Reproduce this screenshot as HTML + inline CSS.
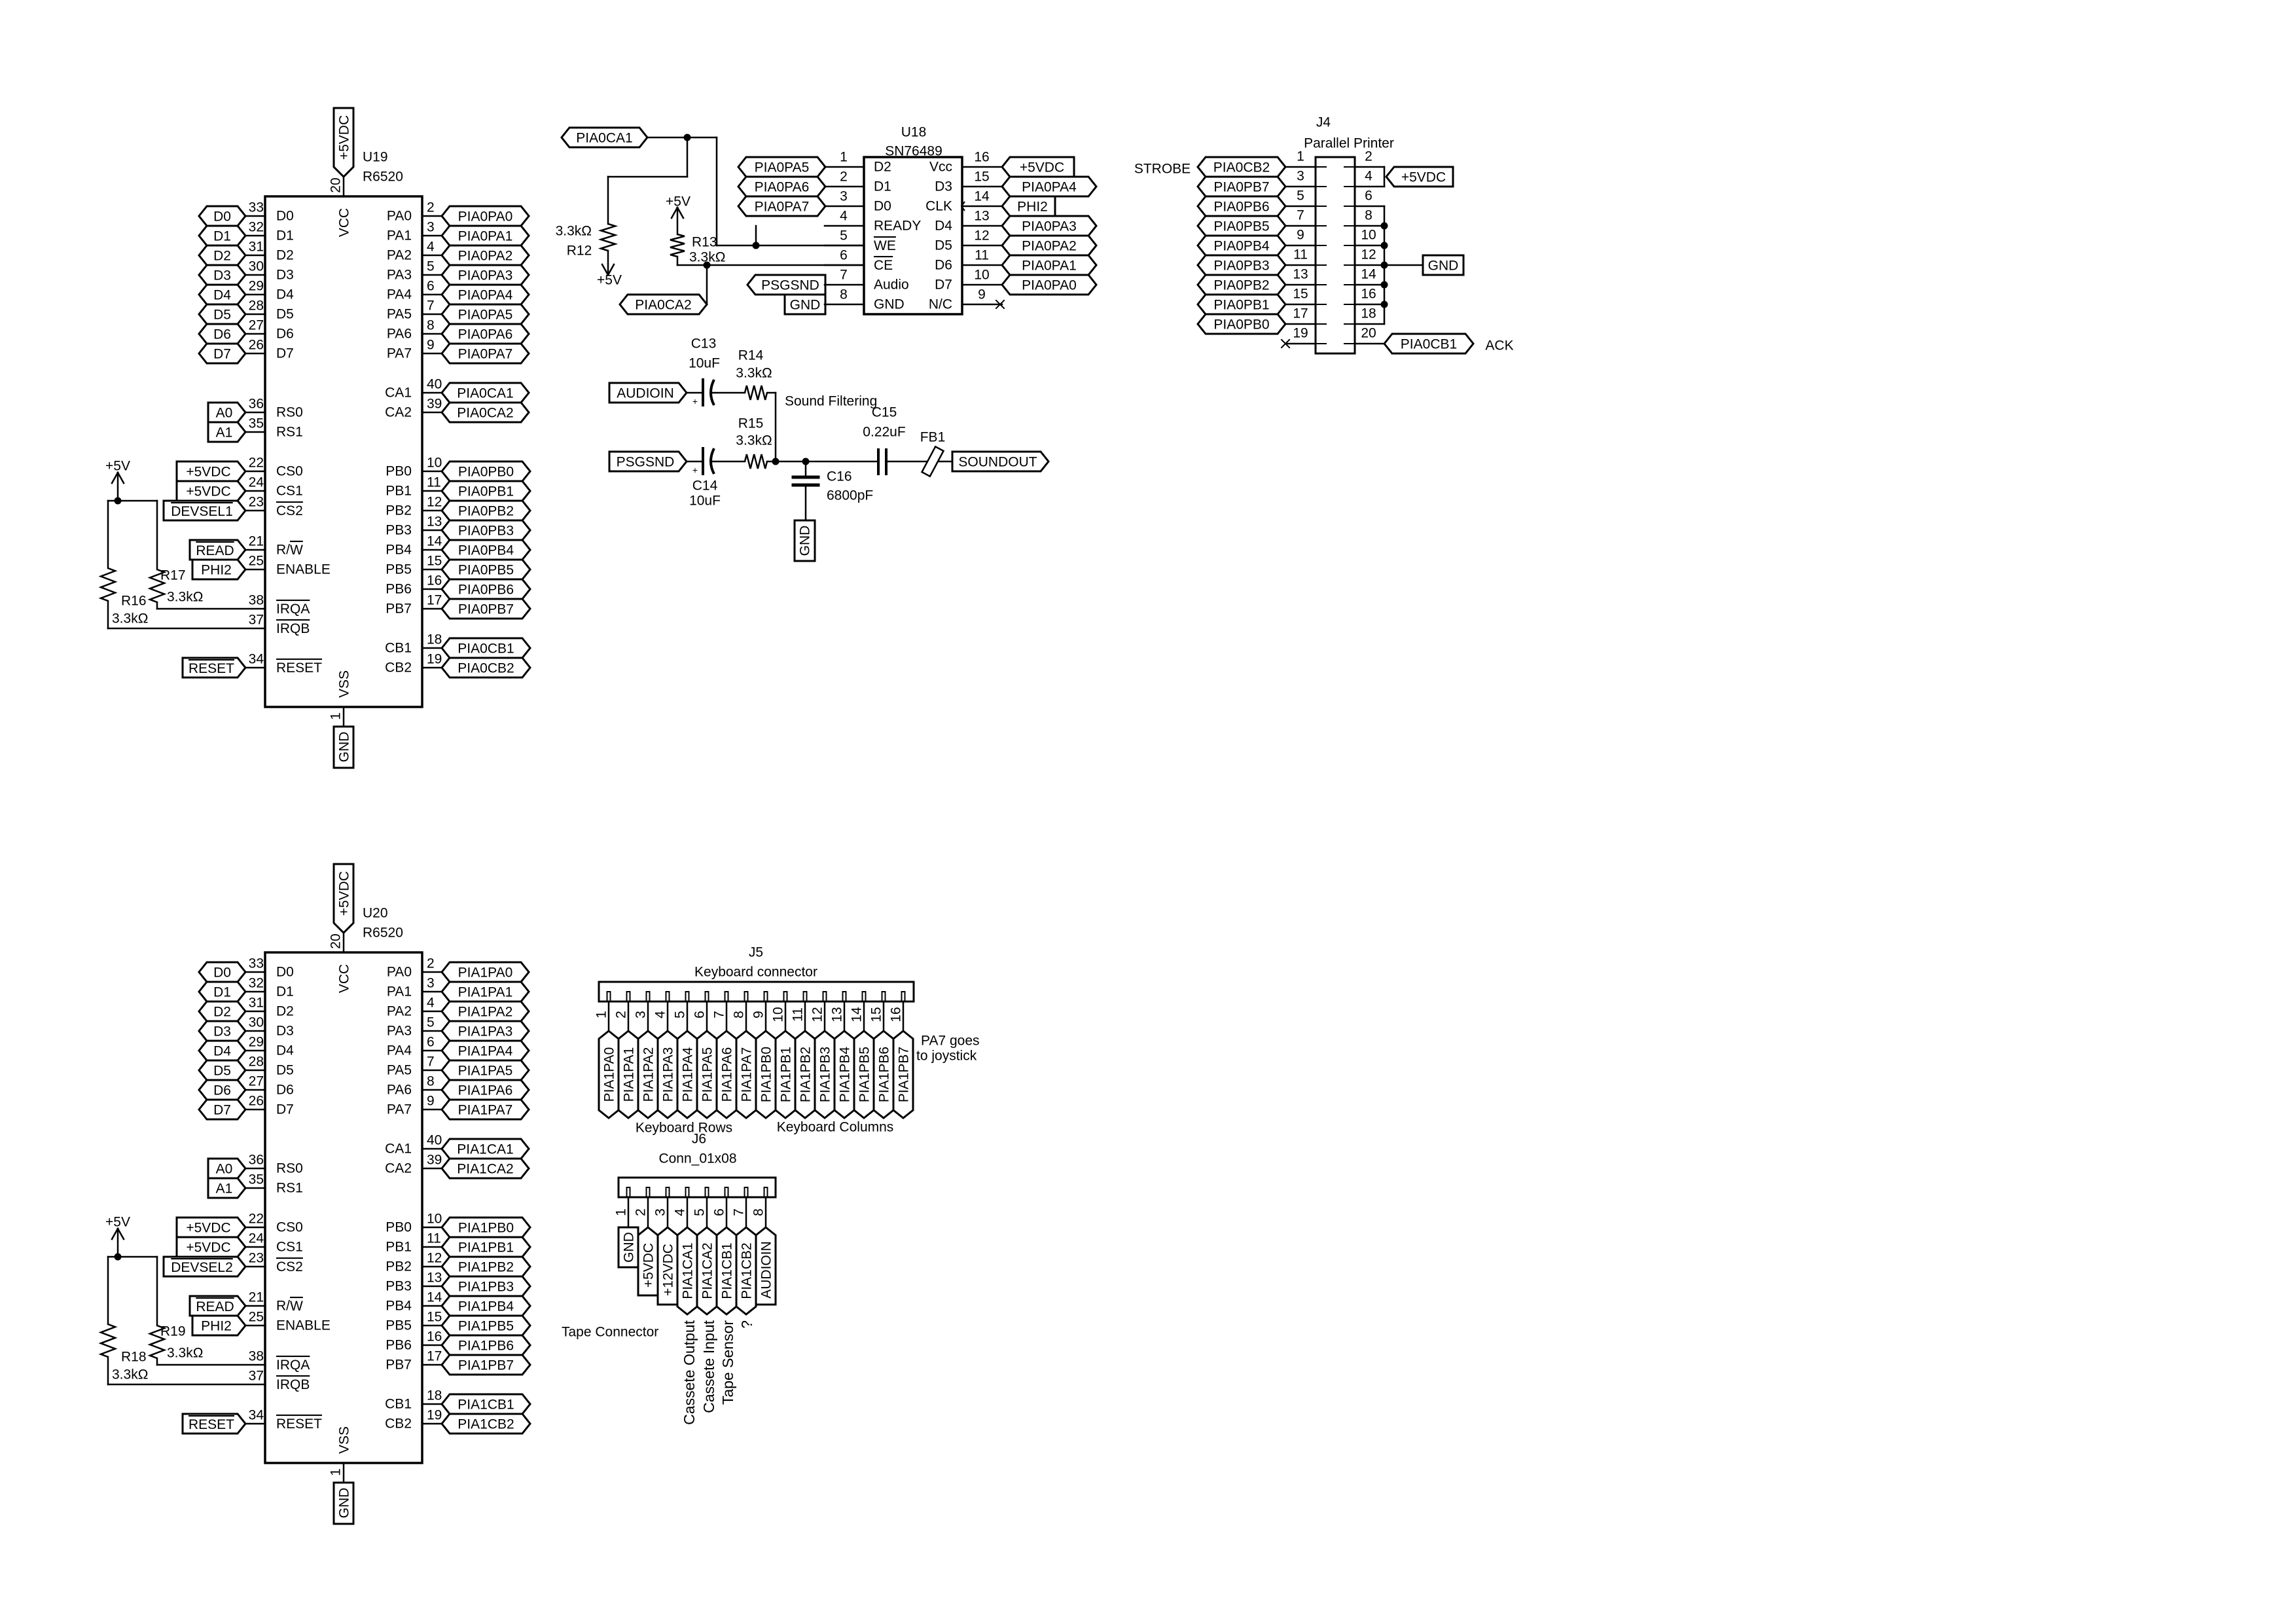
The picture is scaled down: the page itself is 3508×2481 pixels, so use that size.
<!DOCTYPE html>
<html><head><meta charset="utf-8">
<style>
html,body{margin:0;padding:0;background:#fff;}
svg{display:block;}
text{font-family:"Liberation Sans",sans-serif;dominant-baseline:central;fill:#000;}
</style></head>
<body>
<svg id="s" width="3508" height="2481" viewBox="0 0 3508 2481" xmlns="http://www.w3.org/2000/svg"></svg>
<script>
let o='';
const W=2.5;
function L(a,b,c,d,w){o+=`<line x1="${a}" y1="${b}" x2="${c}" y2="${d}" stroke="#000" stroke-width="${w||W}" stroke-linecap="square"/>`}
function P(pts,w){o+=`<polyline points="${pts}" fill="none" stroke="#000" stroke-width="${w||W}"/>`}
function G(pts,w){o+=`<polygon points="${pts}" fill="none" stroke="#000" stroke-width="${w||3}"/>`}
function R(x,y,w,h,sw){o+=`<rect x="${x}" y="${y}" width="${w}" height="${h}" fill="none" stroke="#000" stroke-width="${sw||3}"/>`}
function T(x,y,s,a,r,fs){a=a||'start';fs=fs||21;o+=`<text x="${x}" y="${y}" text-anchor="${a}" font-size="${fs}"${r?` transform="rotate(${r} ${x} ${y})"`:''}>${s}</text>`}
function D(x,y){o+=`<circle cx="${x}" cy="${y}" r="5.5" fill="#000"/>`}
function ov(s){return `<tspan text-decoration="overline">${s}</tspan>`}
const h=15,d=12;
function hl(x1,x2,y,s,t){
  let cx;
  if(t=='h'){G(`${x1},${y} ${x1+d},${y-h} ${x2-d},${y-h} ${x2},${y} ${x2-d},${y+h} ${x1+d},${y+h}`);cx=(x1+x2)/2;}
  else if(t=='r'){G(`${x1},${y-h} ${x2-d},${y-h} ${x2},${y} ${x2-d},${y+h} ${x1},${y+h}`);cx=(x1+x2-d)/2+2;}
  else if(t=='l'){G(`${x1},${y} ${x1+d},${y-h} ${x2},${y-h} ${x2},${y+h} ${x1+d},${y+h}`);cx=(x1+d+x2)/2;}
  else {G(`${x1},${y-h} ${x2},${y-h} ${x2},${y+h} ${x1},${y+h}`);cx=(x1+x2)/2;}
  T(cx,y+1,s,'middle');
}
function vl(x,y1,y2,s,t){
  let cy;
  if(t=='h'){G(`${x},${y1} ${x+h},${y1+d} ${x+h},${y2-d} ${x},${y2} ${x-h},${y2-d} ${x-h},${y1+d}`);cy=(y1+y2)/2;}
  else if(t=='t'){G(`${x},${y1} ${x+h},${y1+d} ${x+h},${y2} ${x-h},${y2} ${x-h},${y1+d}`);cy=(y1+d+y2)/2;}
  else {G(`${x-h},${y1} ${x+h},${y1} ${x+h},${y2} ${x-h},${y2}`);cy=(y1+y2)/2;}
  T(x+1,cy,s,'middle',-90);
}
function zv(x,y1,y2){let p=[x+','+y1];const n=6;for(let i=0;i<n;i++){p.push((x+(i%2?-11:11))+','+(y1+(i+0.5)*(y2-y1)/n));}p.push(x+','+y2);P(p.join(' '));}
function zh(x1,x2,y){let p=[x1+','+y];const n=6;for(let i=0;i<n;i++){p.push((x1+(i+0.5)*(x2-x1)/n)+','+(y+(i%2?11:-11)));}p.push(x2+','+y);P(p.join(' '));}
function up(x,y){L(x-9,y+16,x,y);L(x,y,x+9,y+16);}
function dn(x,y){L(x-9,y-16,x,y);L(x,y,x+9,y-16);}

function pia(oy,p,dev,U,Ra,Rb){
  R(405,300+oy,240,780,3.5);
  G(`510,${165+oy} 540,${165+oy} 540,${255+oy} 525,${270+oy} 510,${255+oy}`);
  T(526,210+oy,'+5VDC','middle',-90);
  L(525,270+oy,525,300+oy);
  T(513,283+oy,'20','middle',-90);
  T(554,240+oy,U);T(554,270+oy,'R6520');
  T(526,340+oy,'VCC','middle',-90);
  T(526,1045+oy,'VSS','middle',-90);
  L(525,1080+oy,525,1110+oy);
  R(510,1110+oy,30,63);T(526,1141+oy,'GND','middle',-90);
  T(513,1094+oy,'1','middle',-90);
  const dn_=[33,32,31,30,29,28,27,26];
  for(let i=0;i<8;i++){
    const y=330+30*i+oy;
    L(375,y,405,y);hl(304,375,y,'D'+i,'h');T(403,y-13,dn_[i],'end');T(422,y,'D'+i);
    L(645,y,675,y);hl(675,808,y,p+'PA'+i,'h');T(652,y-13,i+2);T(629,y,'PA'+i,'end');
  }
  // CA
  [[600,'CA1',40],[630,'CA2',39]].forEach(a=>{const y=a[0]+oy;L(645,y,675,y);hl(675,808,y,p+a[1],'h');T(652,y-13,a[2]);T(629,y,a[1],'end');});
  // PB
  for(let i=0;i<8;i++){const y=720+30*i+oy;L(645,y,675,y);hl(675,810,y,p+'PB'+i,'h');T(652,y-13,10+i);T(629,y,'PB'+i,'end');}
  [[990,'CB1',18],[1020,'CB2',19]].forEach(a=>{const y=a[0]+oy;L(645,y,675,y);hl(675,810,y,p+a[1],'h');T(652,y-13,a[2]);T(629,y,a[1],'end');});
  // left inputs
  const li=[[630,'A0',36,'RS0',318],[660,'A1',35,'RS1',318],[720,'+5VDC',22,'CS0',270],[750,'+5VDC',24,'CS1',270],[780,ov(dev),23,ov('CS2'),250],[840,ov('READ'),21,'R/'+ov('W'),290],[870,'PHI2',25,'ENABLE',294],[1020,ov('RESET'),34,ov('RESET'),279]];
  li.forEach(a=>{const y=a[0]+oy;L(375,y,405,y);hl(a[4],375,y,a[1],'r');T(403,y-13,a[2],'end');T(422,y,a[3]);});
  // IRQ
  T(403,930+oy-13,38,'end');T(422,930+oy,ov('IRQA'));
  T(403,960+oy-13,37,'end');T(422,960+oy,ov('IRQB'));
  // resistor network
  T(180,712+oy,'+5V','middle');
  up(180,722+oy);L(180,722+oy,180,765+oy);D(180,765+oy);
  L(165,765+oy,240,765+oy);
  L(165,765+oy,165,868+oy);zv(165,868+oy,918+oy);L(165,918+oy,165,960+oy);L(165,960+oy,405,960+oy);
  L(240,765+oy,240,870+oy);zv(240,870+oy,920+oy);L(240,920+oy,240,930+oy);L(240,930+oy,405,930+oy);
  T(245,879+oy,Rb);T(255,912+oy,'3.3kΩ');
  T(185,918+oy,Ra);T(171,945+oy,'3.3kΩ');
}
pia(0,'PIA0','DEVSEL1','U19','R16','R17');
pia(1155,'PIA1','DEVSEL2','U20','R18','R19');

// U18
R(1320,240,150,240,3.5);
T(1396,202,'U18','middle');T(1396,231,'SN76489','middle');
const ln=['D2','D1','D0','READY',ov('WE'),ov('CE'),'Audio','GND'];
const rn=['Vcc','D3','CLK','D4','D5','D6','D7','N/C'];
const rnum=[16,15,14,13,12,11,10,9];
for(let i=0;i<8;i++){const y=255+30*i;
  L(1260,y,1320,y);T(1289,y-15,i+1,'middle');T(1335,y,ln[i]);
  L(1470,y,1531,y);T(1500,y-15,rnum[i],'middle');T(1455,y,rn[i],'end');}
P('1474,308 1469,315 1474,322',2);
hl(1128,1261,255,'PIA0PA5','h');hl(1128,1261,285,'PIA0PA6','h');hl(1128,1261,315,'PIA0PA7','h');
hl(1142,1261,435,'PSGSND','l');hl(1199,1261,465,'GND','b');
hl(1531,1641,255,'+5VDC','l');hl(1531,1675,285,'PIA0PA4','h');hl(1531,1612,315,'PHI2','l');
hl(1531,1675,345,'PIA0PA3','h');hl(1531,1675,375,'PIA0PA2','h');hl(1531,1675,405,'PIA0PA1','h');hl(1531,1675,435,'PIA0PA0','h');
L(1522,459,1534,471,2);L(1522,471,1534,459,2);
// CA1/CA2 net
hl(858,989,210,'PIA0CA1','h');
L(989,210,1095,210);D(1050,210);
L(1050,210,1050,270);L(1050,270,929,270);L(929,270,929,342);zv(929,342,383);L(929,383,929,420);dn(929,420);
T(931,428,'+5V','middle');T(904,353,'3.3kΩ','end');T(885,383,'R12','middle');
L(1095,210,1095,375);L(1095,375,1320,375);D(1155,375);L(1155,345,1155,375);
T(1036,308,'+5V','middle');up(1035,317);L(1035,317,1035,358);zv(1035,358,392);L(1035,392,1035,405);L(1035,405,1320,405);
D(1080,405);L(1080,405,1080,465);hl(947,1080,465,'PIA0CA2','h');
T(1057,370,'R13');T(1053,393,'3.3kΩ');

// Filter
hl(931,1049,600,'AUDIOIN','r');hl(931,1049,705,'PSGSND','r');
function pcap(y){L(1049,y,1074,y);L(1074,y-20,1074,y+19,4);o+=`<path d="M1091,${y-20} Q1081,${y} 1091,${y+19}" fill="none" stroke="#000" stroke-width="4"/>`;L(1087,y,1138,y);T(1062,y+13,'+','middle',0,14);}
pcap(600);pcap(705);
zh(1138,1172,600);L(1172,600,1185,600);L(1185,600,1185,705);
zh(1138,1172,705);L(1172,705,1342,705);
D(1185,705);D(1231,705);
L(1342,687,1342,724,4);L(1354,687,1354,724,4);L(1354,705,1416,705);
o+=`<rect x="1418" y="683" width="14" height="44" fill="none" stroke="#000" stroke-width="2.5" transform="rotate(28 1425 705)"/>`;
L(1434,705,1455,705);hl(1455,1602,705,'SOUNDOUT','r');
L(1231,705,1231,729);L(1212,729,1250,729,5);L(1212,741,1250,741,5);L(1231,741,1231,795);
R(1214,795,31,62);T(1230,826,'GND','middle',-90);
T(1075,525,'C13','middle');T(1076,555,'10uF','middle');T(1147,543,'R14','middle');T(1152,570,'3.3kΩ','middle');
T(1199,613,'Sound Filtering');T(1351,630,'C15','middle');T(1351,660,'0.22uF','middle');T(1425,668,'FB1','middle');
T(1147,647,'R15','middle');T(1152,673,'3.3kΩ','middle');T(1077,742,'C14','middle');T(1077,765,'10uF','middle');
T(1263,728,'C16');T(1263,757,'6800pF');

// J4
R(2010,240,60,300,3);
T(2022,187,'J4','middle');T(2061,219,'Parallel Printer','middle');
T(1776,258,'STROBE','middle');T(2291,528,'ACK','middle');
const j4l=['PIA0CB2','PIA0PB7','PIA0PB6','PIA0PB5','PIA0PB4','PIA0PB3','PIA0PB2','PIA0PB1','PIA0PB0'];
for(let i=0;i<10;i++){const y=255+30*i;
  L(1964,y,2010,y);L(2010,y,2026,y,2);L(2054,y,2070,y,2);L(2070,y,2115,y);
  T(1987,y-16,2*i+1,'middle');T(2091,y-16,2*i+2,'middle');
  if(i<9)hl(1830,1964,y,j4l[i],'h');}
L(1958,519,1970,531,2);L(1958,531,1970,519,2);
L(2115,255,2115,285);hl(2118,2220,270,'+5VDC','l');
L(2115,315,2115,495);[345,375,405,435,465].forEach(y=>D(2115,y));
L(2115,405,2174,405);hl(2174,2236,405,'GND','b');
hl(2115,2251,525,'PIA0CB1','h');

// J5
R(915,1500,481,30,3);
T(1155,1455,'J5','middle');T(1155,1485,'Keyboard connector','middle');
for(let i=0;i<16;i++){const x=930+30*i;
  L(x,1530,x,1575);o+=`<rect x="${x-2.5}" y="1515" width="5" height="15" fill="none" stroke="#000" stroke-width="2"/>`;
  T(x-11,1550,i+1,'middle',-90);
  vl(x,1575,1708,(i<8?'PIA1PA'+i:'PIA1PB'+(i-8)),'h');}
T(1407,1590,'PA7 goes');T(1400,1613,'to joystick');
T(1045,1723,'Keyboard Rows','middle');T(1276,1722,'Keyboard Columns','middle');
T(1068,1740,'J6','middle');T(1066,1770,'Conn_01x08','middle');

// J6
R(945,1799,240,30,3);
const j6=[['GND','b',1936],['+5VDC','t',1979],['+12VDC','t',1993],['PIA1CA1','h',2008],['PIA1CA2','h',2008],['PIA1CB1','h',2008],['PIA1CB2','h',2008],['AUDIOIN','t',1993]];
for(let i=0;i<8;i++){const x=960+30*i;
  L(x,1829,x,1875);o+=`<rect x="${x-2.5}" y="1814" width="5" height="15" fill="none" stroke="#000" stroke-width="2"/>`;
  T(x-11,1852,i+1,'middle',-90);
  vl(x,1875,j6[i][2],j6[i][0],j6[i][1]);}
T(858,2035,'Tape Connector');
T(1053,2017,'Cassete Output','end',-90,23);
T(1083,2017,'Cassete Input','end',-90,23);
T(1112,2017,'Tape Sensor','end',-90,23);
T(1141,2017,'?','end',-90,23);

document.getElementById('s').innerHTML=o;
</script>
</body></html>
